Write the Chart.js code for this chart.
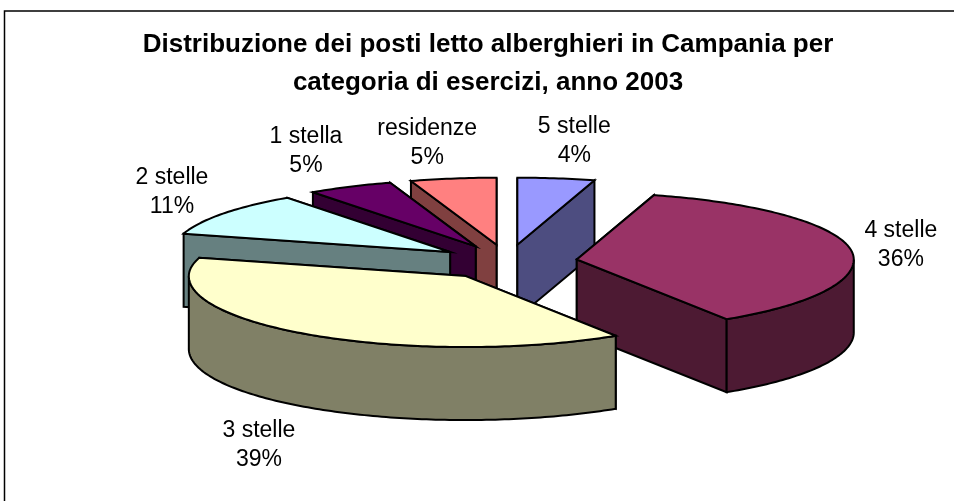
<!DOCTYPE html>
<html>
<head>
<meta charset="utf-8">
<script src="https://cdn.jsdelivr.net/npm/chart.js@4"></script>
<style>
html, body { margin: 0; padding: 0; background: #fff; overflow: hidden; }
#wrap { width: 954px; height: 501px; }
</style>
</head>
<body>
<div id="wrap"><canvas id="chart" width="954" height="501"></canvas></div>
<script>
// percentages, tweaked a bit so the slice angles line up
var categories = ['5 stelle', '4 stelle', '3 stelle', '2 stelle', '1 stella', 'residenze'];
var shares = [4.49, 36.41, 38.5, 10.6, 5.0, 5.0];
var topColors = ['#9999FF', '#993366', '#FFFFCC', '#CCFFFF', '#660066', '#FF8080'];
var wallColors = ['#4D4D80', '#4D1A33', '#808066', '#668080', '#330033', '#804040'];
var titleLines = ['Distribuzione dei posti letto alberghieri in Campania per', 'categoria di esercizi, anno 2003'];

// where the labels sit relative to the outer edge of their slice
var labelNudge = [[18, -37], [50, -5], [-42, 112], [-51, -21], [-44, -36], [-26, -35]];

// fake 3D: the pie lies flat, so the library's circle gets squashed into an ellipse
// the far half is a little flatter than the near half, like the perspective in the original
var PIE = { cx: 507.5, cy: 262, rx: 277, ryFar: 67, ryNear: 71, depth: 73, explode: 70 };
var LABEL_FONT = '23px "Liberation Sans", Arial, sans-serif';

function slice_geometry(arc) {
    var mid = (arc.startAngle + arc.endAngle) / 2;
    return {
        start: arc.startAngle,
        end: arc.endAngle,
        mid: mid,
        tipX: PIE.cx + Math.cos(mid) * PIE.explode,
        tipY: PIE.cy + Math.sin(mid) * PIE.explode * 0.25
    };
}

function edge_point(g, angle) {
    var s = Math.sin(angle);
    return { x: g.tipX + Math.cos(angle) * PIE.rx, y: g.tipY + s * (s < 0 ? PIE.ryFar : PIE.ryNear) };
}

function paint(ctx, points, fill) {
    ctx.beginPath();
    points.forEach(function (p, i) {
        if (i === 0) ctx.moveTo(p.x, p.y);
        else ctx.lineTo(p.x, p.y);
    });
    ctx.closePath();
    ctx.fillStyle = fill;
    ctx.fill();
    ctx.stroke();
}

function arc_points(g, from, to) {
    var pts = [];
    var steps = Math.max(2, Math.ceil((to - from) * 60));
    for (var i = 0; i <= steps; i++) {
        pts.push(edge_point(g, from + (to - from) * i / steps));
    }
    return pts;
}

function draw_slice(ctx, g, top, wall) {
    var tip = { x: g.tipX, y: g.tipY };
    var sides = [edge_point(g, g.start), edge_point(g, g.end)];
    sides.sort(function (a, b) { return (a.y - b.y); });

    // back wall first, front wall over it
    sides.forEach(function (p) {
        paint(ctx, [tip, p, { x: p.x, y: p.y + PIE.depth }, { x: tip.x, y: tip.y + PIE.depth }], wall);
    });

    // outer wall only where it faces us
    var from = Math.max(g.start, 0);
    var to = Math.min(g.end, Math.PI);
    if (to > from) {
        var rim = arc_points(g, from, to);
        var low = rim.map(function (p) { return { x: p.x, y: p.y + PIE.depth }; }).reverse();
        paint(ctx, rim.concat(low), wall);
    }

    paint(ctx, [tip].concat(arc_points(g, g.start, g.end)), top);
}

var pie3d = {
    id: 'pie3d',
    beforeDraw: function (chart) {
        var ctx = chart.ctx;
        ctx.save();
        ctx.fillStyle = '#fff';
        ctx.fillRect(0, 0, chart.width, chart.height);
        ctx.strokeStyle = '#000';
        ctx.lineWidth = 1.5;
        ctx.strokeRect(4.5, 11, chart.width + 20, chart.height + 20);
        ctx.restore();
    },
    beforeDatasetDraw: function (chart, args) {
        var ctx = chart.ctx;
        var slices = args.meta.data.map(function (arc, i) {
            return { i: i, g: slice_geometry(arc) };
        });
        slices.sort(function (a, b) { return a.g.tipY - b.g.tipY; });

        ctx.save();
        ctx.strokeStyle = '#000';
        ctx.lineWidth = 2;
        ctx.lineJoin = 'miter';
        slices.forEach(function (s) {
            draw_slice(ctx, s.g, topColors[s.i], wallColors[s.i]);
        });

        ctx.font = LABEL_FONT;
        ctx.fillStyle = '#000';
        ctx.textAlign = 'center';
        ctx.textBaseline = 'middle';
        slices.forEach(function (s) {
            var p = edge_point(s.g, s.g.mid);
            var x = p.x + labelNudge[s.i][0];
            var y = p.y + labelNudge[s.i][1];
            ctx.fillText(categories[s.i], x, y - 14.5);
            ctx.fillText(Math.round(shares[s.i]) + '%', x, y + 14.5);
        });
        ctx.restore();
        return false;
    }
};

new Chart(document.getElementById('chart').getContext('2d'), {
    type: 'pie',
    plugins: [pie3d],
    data: {
        labels: categories,
        datasets: [{
            data: shares,
            backgroundColor: topColors
        }]
    },
    options: {
        responsive: false,
        animation: false,
        events: [],
        layout: { padding: { left: 22 } },
        plugins: {
            legend: { display: false },
            tooltip: { enabled: false },
            title: {
                display: true,
                text: titleLines,
                color: '#000',
                padding: { top: 26, bottom: 10 },
                font: { family: '"Liberation Sans", Arial, sans-serif', size: 26, weight: 'bold', lineHeight: 1.46 }
            }
        }
    }
});
</script>
</body>
</html>
